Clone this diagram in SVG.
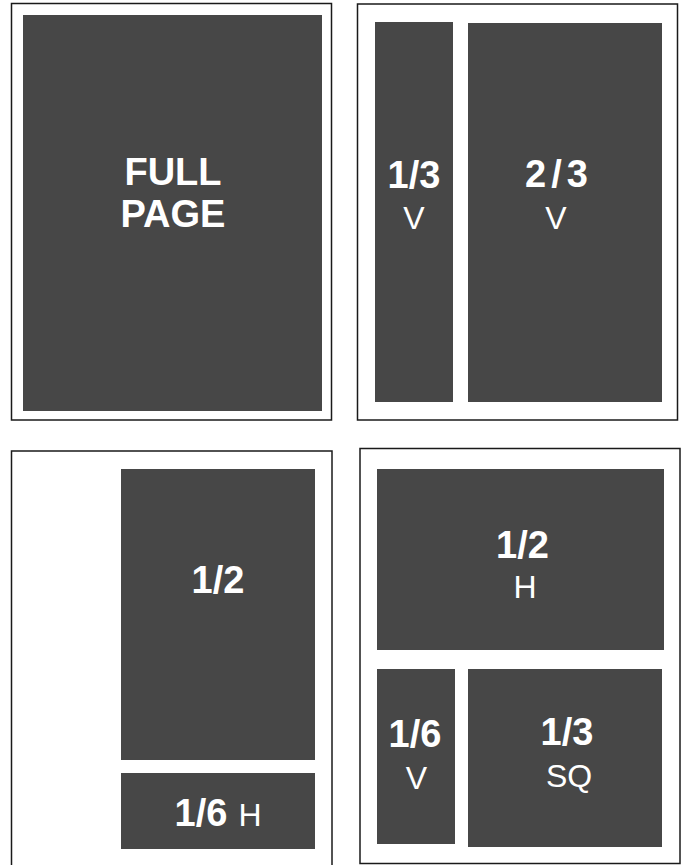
<svg xmlns="http://www.w3.org/2000/svg" width="683" height="865" viewBox="0 0 683 865">
<style>
.page{fill:#fff;stroke:#1a1a1a;stroke-width:1.5}
.ad{fill:#474747}
.num{font-family:"Liberation Sans",Arial,sans-serif;font-weight:bold;font-size:38px;fill:#fff;text-anchor:middle}
.sub{font-family:"Liberation Sans",Arial,sans-serif;font-size:32px;fill:#fff;text-anchor:middle}
</style>
<rect width="683" height="865" fill="#fff"/>
<g id="page-full">
<rect class="page" x="11.5" y="3.5" width="320" height="416.5"/>
<rect class="ad" x="23" y="15" width="299" height="396"/>
<text class="num" x="173" y="185" font-size="39">FULL</text>
<text class="num" x="173" y="227" font-size="39">PAGE</text>
</g>
<g id="page-thirds">
<rect class="page" x="357.5" y="4" width="320" height="416"/>
<rect class="ad" x="375" y="22" width="78" height="380"/>
<rect class="ad" x="468" y="23" width="194" height="379"/>
<text class="num" x="414" y="188">1/3</text>
<text class="sub" x="414" y="229">V</text>
<text class="num" x="559" y="187" letter-spacing="5">2/3</text>
<text class="sub" x="556" y="229">V</text>
</g>
<g id="page-half-v">
<rect class="page" x="11.5" y="451" width="320.5" height="420"/>
<rect class="ad" x="121" y="469" width="194" height="291"/>
<text class="num" x="218" y="593">1/2</text>
<rect class="ad" x="121" y="773" width="194" height="76"/>
<text class="num" x="201" y="826" font-size="40">1/6</text>
<text class="sub" x="250" y="826">H</text>
</g>
<g id="page-mixed">
<rect class="page" x="360" y="448.5" width="320" height="415"/>
<rect class="ad" x="377" y="469" width="287" height="181"/>
<text class="num" x="522.5" y="558">1/2</text>
<text class="sub" x="525" y="598" font-size="29">H</text>
<rect class="ad" x="377" y="669" width="78" height="175"/>
<text class="num" x="415" y="747">1/6</text>
<text class="sub" x="416.5" y="789">V</text>
<rect class="ad" x="468" y="669" width="194" height="178"/>
<text class="num" x="567" y="745">1/3</text>
<text class="sub" x="569" y="787" font-size="28">SQ</text>
</g>
</svg>
